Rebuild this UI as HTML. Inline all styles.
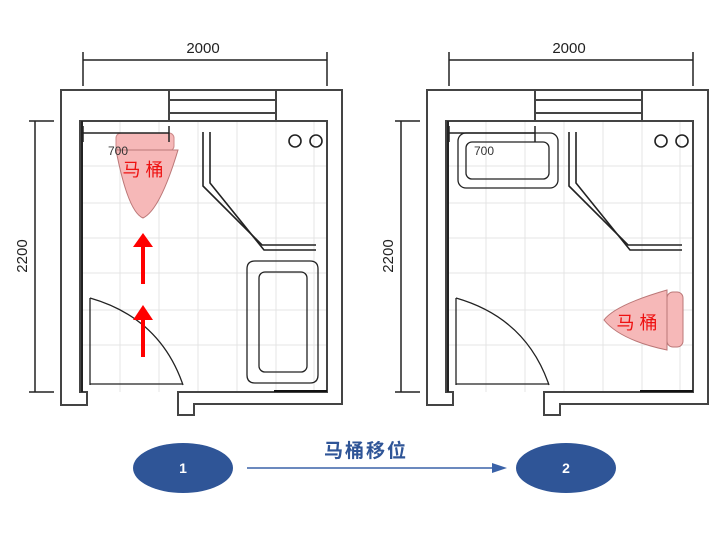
<!DOCTYPE html>
<html><head><meta charset="utf-8"><style>
html,body{margin:0;padding:0;background:#fff;}
svg{display:block;}
</style></head><body>
<svg width="720" height="540" viewBox="0 0 720 540" xmlns="http://www.w3.org/2000/svg" font-family="Liberation Sans, Noto Sans CJK SC, sans-serif">
<defs>
<g id="plan">
  <!-- grid -->
  <g stroke="#e4e4e4" stroke-width="1">
    <line x1="120" y1="121" x2="120" y2="392"/><line x1="159" y1="121" x2="159" y2="392"/>
    <line x1="198" y1="121" x2="198" y2="392"/><line x1="237" y1="121" x2="237" y2="392"/>
    <line x1="276" y1="121" x2="276" y2="392"/><line x1="314" y1="121" x2="314" y2="392"/>
    <line x1="80" y1="166" x2="327" y2="166"/><line x1="80" y1="203" x2="327" y2="203"/>
    <line x1="80" y1="238" x2="327" y2="238"/><line x1="80" y1="273" x2="327" y2="273"/>
    <line x1="80" y1="310" x2="327" y2="310"/><line x1="80" y1="345" x2="327" y2="345"/>
  </g>
  <!-- walls -->
  <g fill="none" stroke="#444" stroke-width="2">
    <path d="M87,405 L61,405 L61,90 L342,90 L342,404 L194,404 L194,415 L178,415 L178,392 L327,392 L327,121 L80,121 L80,392 L87,392 Z"/>
    <line x1="169" y1="90" x2="169" y2="121"/><line x1="276" y1="90" x2="276" y2="121"/>
    <line x1="169" y1="100" x2="276" y2="100"/><line x1="169" y1="113" x2="276" y2="113"/>
  </g>
  <line x1="82" y1="121" x2="82" y2="392" stroke="#222" stroke-width="2"/>
  <line x1="274" y1="391" x2="327" y2="391" stroke="#111" stroke-width="2"/>
  <!-- shower -->
  <g fill="none" stroke="#222" stroke-width="1.6">
    <path d="M203,132 L203,186 L262,245 L316,245"/>
    <path d="M210,132 L210,183 L264,250 L316,250"/>
    <circle cx="295" cy="141" r="6"/><circle cx="316" cy="141" r="6"/>
  </g>
  <!-- door -->
  <g fill="none" stroke="#222" stroke-width="1.3">
    <line x1="90" y1="298" x2="90" y2="385"/>
    <line x1="90" y1="384" x2="183" y2="384"/>
    <path d="M90,298 Q160,318 183,385"/>
  </g>
</g>
</defs>

<!-- dimensions -->
<g stroke="#222" stroke-width="1.5" fill="none">
  <line x1="83" y1="60" x2="327" y2="60"/><line x1="83" y1="52" x2="83" y2="86"/><line x1="327" y1="52" x2="327" y2="86"/>
  <line x1="35" y1="121" x2="35" y2="392"/><line x1="29" y1="121" x2="54" y2="121"/><line x1="29" y1="392" x2="54" y2="392"/>
  <line x1="449" y1="60" x2="693" y2="60"/><line x1="449" y1="52" x2="449" y2="86"/><line x1="693" y1="52" x2="693" y2="86"/>
  <line x1="401" y1="121" x2="401" y2="392"/><line x1="395" y1="121" x2="420" y2="121"/><line x1="395" y1="392" x2="420" y2="392"/>
</g>
<g font-size="15" fill="#222" text-anchor="middle">
  <text x="203" y="53">2000</text>
  <text x="569" y="53">2000</text>
  <text transform="translate(27,256) rotate(-90)">2200</text>
  <text transform="translate(393,256) rotate(-90)">2200</text>
</g>

<!-- left plan -->
<use href="#plan"/>
<g fill="none" stroke="#222" stroke-width="1.3"><path d="M247,269 Q247,261 255,261 L310,261 Q318,261 318,269 L318,375 Q318,383 310,383 L255,383 Q247,383 247,375 Z"/>
<rect x="259" y="272" width="48" height="100" rx="6"/></g>
<rect x="116" y="133" width="58" height="18" rx="5" fill="#f6b8b8" stroke="#c88" stroke-width="1"/>
<path d="M116,150 L178,150 Q160,210 143,218 Q128,212 116,150 Z" fill="#f6b8b8" stroke="#b77" stroke-width="1"/>
<g stroke="#222" stroke-width="1.5"><line x1="83" y1="133" x2="169" y2="133"/><line x1="83" y1="126" x2="83" y2="142"/><line x1="169" y1="126" x2="169" y2="142"/></g>
<text x="108" y="155" font-size="12" fill="#333">700</text>
<text x="143" y="176" font-size="18" fill="#ee1111" text-anchor="middle">马 桶</text>
<g fill="#ff0000"><rect x="141" y="246" width="4" height="38"/><polygon points="133,247 153,247 143,233"/>
<rect x="141" y="318" width="4" height="39"/><polygon points="133,320 153,320 143,305"/></g>

<!-- right plan -->
<use href="#plan" transform="translate(366,0)"/>
<g fill="none" stroke="#222" stroke-width="1.3">
<rect x="458" y="133" width="100" height="55" rx="8"/>
<rect x="466" y="142" width="83" height="37" rx="6"/></g>
<g stroke="#222" stroke-width="1.5"><line x1="449" y1="133" x2="535" y2="133"/><line x1="449" y1="126" x2="449" y2="142"/><line x1="535" y1="126" x2="535" y2="142"/></g>
<text x="474" y="155" font-size="12" fill="#333">700</text>
<path d="M667,290 L667,350 Q620,340 604,320 Q615,305 667,290 Z" fill="#f6b8b8" stroke="#b77" stroke-width="1"/>
<rect x="667" y="292" width="16" height="55" rx="6" fill="#f6b8b8" stroke="#b77" stroke-width="1"/>
<text x="637" y="329" font-size="18" fill="#ee1111" text-anchor="middle">马 桶</text>

<!-- bottom flow -->
<ellipse cx="183" cy="468" rx="50" ry="25" fill="#2f5597"/>
<ellipse cx="566" cy="468" rx="50" ry="25" fill="#2f5597"/>
<text x="183" y="473" font-size="14" font-weight="bold" fill="#fff" text-anchor="middle">1</text>
<text x="566" y="473" font-size="14" font-weight="bold" fill="#fff" text-anchor="middle">2</text>
<line x1="247" y1="468" x2="494" y2="468" stroke="#3a62a8" stroke-width="1.5"/>
<polygon points="492,463 507,468 492,473" fill="#3a62a8"/>
<text x="366" y="457" font-size="19" font-weight="bold" fill="#2f5597" text-anchor="middle" letter-spacing="2">马桶移位</text>
</svg>
</body></html>
